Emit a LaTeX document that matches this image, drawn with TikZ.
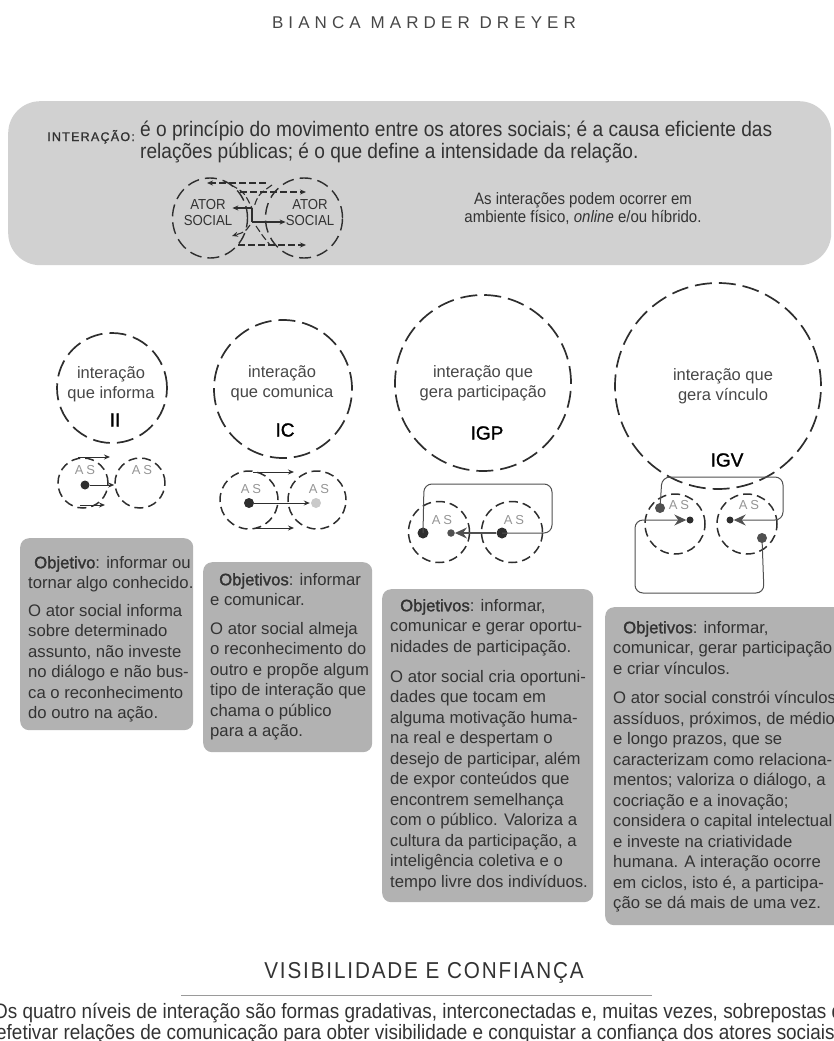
\documentclass[tikz,border=0pt]{standalone}
\usepackage{fontspec}
\setmainfont{Liberation Sans}
\newfontfamily\condfont{Liberation Sans}[FakeStretch=0.91]
\newfontfamily\headfont{Liberation Sans}[LetterSpace=30]
\newfontfamily\capsfont{Liberation Sans}[LetterSpace=10,FakeBold=1.2]
\newfontfamily\titlefont{Liberation Sans}[LetterSpace=8,FakeStretch=0.9]
\newfontfamily\asfont{Liberation Sans}[LetterSpace=22]
\newfontfamily\semibold{Liberation Sans}[FakeBold=1.4]
\usetikzlibrary{arrows.meta,shapes.geometric}

\definecolor{ink}{HTML}{2E2E2E}
\definecolor{txt}{HTML}{333333}
\definecolor{softtxt}{HTML}{474747}
\definecolor{asgray}{HTML}{959595}
\definecolor{panel}{HTML}{D1D1D1}
\definecolor{card}{HTML}{B2B2B2}
\definecolor{paledot}{HTML}{C9C9C9}
\definecolor{rulegray}{HTML}{9A9A9A}
\definecolor{loopgray}{HTML}{505050}

\tikzset{
  bigring/.style={circle, draw=ink, line width=1.7pt, dash pattern=on 17pt off 7pt, inner sep=0pt},
  asring/.style={circle, draw=ink, line width=1.5pt, dash pattern=on 9pt off 5pt, inner sep=0pt},
  actorring/.style={ellipse, draw=ink, line width=1.4pt, dash pattern=on 12pt off 6pt, inner sep=0pt},
  actortext/.style={align=center, text=txt, inner sep=0pt, font=\condfont\fontsize{14.5}{16}\selectfont},
  ringlabel/.style={align=center, text=softtxt, inner sep=0pt, font=\fontsize{16.5}{20}\selectfont},
  ringcode/.style={text=black, inner sep=0pt, font=\semibold\fontsize{19}{19}\selectfont},
  aslabel/.style={text=asgray, inner sep=0pt, font=\asfont\fontsize{13}{13}\selectfont},
  bigdot/.style={circle, fill=ink, inner sep=0pt, minimum size=11pt},
  middot/.style={circle, fill=ink, inner sep=0pt, minimum size=10pt},
  smalldot/.style={circle, fill=loopgray, inner sep=0pt, minimum size=7.5pt},
  thinarrow/.style={draw=ink, line width=1pt, -{Stealth[length=6pt,width=5pt]}},
  tangle/.style={draw=ink, line width=1.1pt},
  tangledash/.style={draw=ink, line width=1.1pt, dash pattern=on 7pt off 3pt},
  looppath/.style={draw=loopgray, line width=1pt, rounded corners=8pt},
  bigtip/.style={-{Stealth[length=12pt,width=11pt,inset=4pt]}},
  card/.style={fill=card, rounded corners=9pt, inner sep=0pt, anchor=north west},
  cardtext/.style={align=left, anchor=north west, inner sep=0pt, text=txt,
                   font=\fontsize{16.7}{20.5}\selectfont},
  closing/.style={anchor=base west, inner sep=0pt, text=txt, font=\condfont\fontsize{20.8}{21}\selectfont},
}

\begin{document}
\begin{tikzpicture}[x=1pt,y=-1pt]
\useasboundingbox (0,0) rectangle (834,1041);
\clip (0,0) rectangle (834,1041);

% running head
\node[text=softtxt, inner sep=0pt, font=\headfont\fontsize{17}{17}\selectfont] (author) at (424,23) {BIANCA MARDER DREYER};

% definition panel
\node[fill=panel, rounded corners=32pt, inner sep=0pt, anchor=north west,
      minimum width=823pt, minimum height=164pt] (panel) at (8,101) {};
\node[anchor=base west, inner sep=0pt, text=txt, font=\capsfont\fontsize{12.5}{13}\selectfont] (interlabel) at (47,141) {INTERAÇÃO:};
\node[anchor=north west, align=left, inner sep=0pt, text=txt, font=\condfont\fontsize{21}{22}\selectfont] (interdef) at (140,121)
  {é o princípio do movimento entre os atores sociais; é a causa eficiente das\\relações públicas; é o que define a intensidade da relação.};
\node[align=center, inner sep=0pt, text=txt, font=\condfont\fontsize{16.5}{18}\selectfont] (interenv) at (583,209)
  {As interações podem ocorrer em\\ambiente físico, \emph{online} e/ou híbrido.};

% two social actors and their crossing exchanges
\node[actorring, minimum width=75pt, minimum height=80pt] (actorL) at (210,218) {};
\node[actorring, minimum width=77pt, minimum height=80pt] (actorR) at (304,218) {};
\node[actortext] (actorLtxt) at (208,213) {ATOR\\SOCIAL};
\node[actortext] (actorRtxt) at (310,213) {ATOR\\SOCIAL};
\coordinate (tA) at (266,183);
\coordinate (tB) at (207,183);
\coordinate (tC) at (240,192);
\coordinate (tD) at (306,192);
\coordinate (mA) at (252,208);
\coordinate (mB) at (252,222);
\coordinate (bA) at (238,245);
\coordinate (bB) at (306,245);
\draw[tangledash, -{Stealth[length=6pt,width=5pt]}] (tA) -- (tB);
\draw[tangledash, -{Stealth[length=6pt,width=5pt]}] (tC) -- (tD);
\draw[tangledash] (231,185) .. controls (244,192) .. (mA);
\draw[tangledash] (272,185) .. controls (258,195) .. (254,207);
\draw[tangle, -{Stealth[length=6pt,width=5pt]}] (mA) -- (actorLtxt.east |- mA);
\draw[tangle] (mA) -- (mB);
\draw[tangle, -{Stealth[length=6pt,width=5pt]}] (mB) -- (actorRtxt.west |- mB);
\draw[tangledash, -{Stealth[length=6pt,width=5pt]}] (250,225) .. controls (245,232) .. (232,236);
\draw[tangledash] (256,226) .. controls (262,235) .. (270,245);
\draw[tangledash, -{Stealth[length=6pt,width=5pt]}] (bA) -- (bB);

% four levels of interaction
\node[bigring, minimum size=110pt] (ringII) at (112,388) {};
\node[ringlabel] (lblII) at (111,384) {interação\\que informa};
\node[ringcode] (codeII) at (115,420) {II};

\node[bigring, minimum size=138pt] (ringIC) at (283,389) {};
\node[ringlabel] (lblIC) at (282,383) {interação\\que comunica};
\node[ringcode] (codeIC) at (285,430) {IC};

\node[bigring, minimum size=176pt] (ringIGP) at (483,383) {};
\node[ringlabel] (lblIGP) at (483,383) {interação que\\gera participação};
\node[ringcode] (codeIGP) at (487,433) {IGP};

\node[bigring, minimum size=206pt] (ringIGV) at (718,386) {};
\node[ringlabel] (lblIGV) at (723,386) {interação que\\gera vínculo};
\node[ringcode] (codeIGV) at (727,460) {IGV};

% II: one actor informs the other
\node[asring, minimum size=50pt] (asIIa) at (83,483) {};
\node[asring, minimum size=50pt] (asIIb) at (140,483) {};
\node[aslabel] (asIIaTxt) at (85,470) {AS};
\node[aslabel] (asIIbTxt) at (142,470) {AS};
\node[circle, fill=ink, inner sep=0pt, minimum size=9pt] (dotII) at (85,485) {};
\draw[thinarrow] (dotII) -- (asIIb.west |- dotII);
\coordinate (IItopA) at (78,457);
\coordinate (IItopB) at (110,457);
\coordinate (IIbotA) at (80,505);
\coordinate (IIbotB) at (105,505);
\draw[thinarrow] (IItopA) -- (IItopB);
\draw[thinarrow] (IIbotA) -- (IIbotB);

% IC: one actor reaches the other
\node[asring, minimum size=58pt] (asICa) at (249,500) {};
\node[asring, minimum size=58pt] (asICb) at (317,500) {};
\node[aslabel] (asICaTxt) at (251,489) {AS};
\node[aslabel] (asICbTxt) at (319,489) {AS};
\node[middot] (dotICa) at (249,503) {};
\node[middot, fill=paledot] (dotICb) at (316,503) {};
\draw[thinarrow, shorten >=1pt] (dotICa) -- (dotICb);
\coordinate (ICtopA) at (253,472);
\coordinate (ICtopB) at (294,472);
\coordinate (ICbotA) at (253,528);
\coordinate (ICbotB) at (294,528);
\draw[thinarrow] (ICtopA) -- (ICtopB);
\draw[thinarrow] (ICbotA) -- (ICbotB);

% IGP: the answer returns
\node[asring, minimum size=61pt] (asIGPa) at (439,532) {};
\node[asring, minimum size=61pt] (asIGPb) at (512,532) {};
\node[aslabel] (asIGPaTxt) at (442,520) {AS};
\node[aslabel] (asIGPbTxt) at (514,520) {AS};
\node[bigdot] (dotIGPa) at (423,533) {};
\node[smalldot] (dotIGPs) at (451,533) {};
\node[bigdot] (dotIGPb) at (502,533) {};
\draw[draw=loopgray, line width=1.2pt, bigtip, fill=loopgray] (dotIGPb) -- (dotIGPs);
\draw[looppath] (dotIGPb.center) -- (552,533) -- (552,484) -- (424,484) -- (dotIGPa.center);

% IGV: exchanges in cycles
\node[asring, minimum size=60pt] (asIGVa) at (675,524) {};
\node[asring, minimum size=60pt] (asIGVb) at (747,524) {};
\node[aslabel] (asIGVaTxt) at (679,505) {AS};
\node[aslabel] (asIGVbTxt) at (749,505) {AS};
\node[circle, fill=loopgray, inner sep=0pt, minimum size=10pt] (dotIGVa) at (660,508) {};
\node[circle, fill=ink, inner sep=0pt, minimum size=7pt] (dotIGVas) at (690,520) {};
\node[circle, fill=ink, inner sep=0pt, minimum size=7pt] (dotIGVbs) at (730,520) {};
\node[circle, fill=loopgray, inner sep=0pt, minimum size=10pt] (dotIGVb) at (762,538) {};
\draw[looppath, bigtip, fill=none] (dotIGVb.center) -- (764,593) -- (635,593) -- (635,520) -- (dotIGVas.west);
\draw[looppath, bigtip, fill=none] (dotIGVa.center) -- (662,477) -- (783,477) -- (783,520) -- (dotIGVbs.east);

% description cards
\node[card, minimum width=173pt, minimum height=192pt] (cardII) at (20,538) {};
\node[cardtext] (textII) at (28,556)
  {\hspace*{6pt}{\semibold Objetivo}: informar ou\\
   tornar algo conhecido.\\[7pt]
   O ator social informa\\
   sobre determinado\\
   assunto, não investe\\
   no diálogo e não bus-\\
   ca o reconhecimento\\
   do outro na ação.};

\node[card, minimum width=169pt, minimum height=190pt] (cardIC) at (203,562) {};
\node[cardtext] (textIC) at (210,573)
  {\hspace*{9pt}{\semibold Objetivos}: informar\\
   e comunicar.\\[8pt]
   O ator social almeja\\
   o reconhecimento do\\
   outro e propõe algum\\
   tipo de interação que\\
   chama o público\\
   para a ação.};

\node[card, minimum width=211pt, minimum height=313pt] (cardIGP) at (382,589) {};
\node[cardtext] (textIGP) at (390,599)
  {\hspace*{10pt}{\semibold Objetivos}: informar,\\
   comunicar e gerar oportu-\\
   nidades de participação.\\[9.5pt]
   O ator social cria oportuni-\\
   dades que tocam em\\
   alguma motivação huma-\\
   na real e despertam o\\
   desejo de participar, além\\
   de expor conteúdos que\\
   encontrem semelhança\\
   com o público. Valoriza a\\
   cultura da participação, a\\
   inteligência coletiva e o\\
   tempo livre dos indivíduos.};

\node[card, minimum width=240pt, minimum height=318pt] (cardIGV) at (605,607) {};
\node[cardtext] (textIGV) at (613,621)
  {\hspace*{10pt}{\semibold Objetivos}: informar,\\
   comunicar, gerar participação\\
   e criar vínculos.\\[9pt]
   O ator social constrói vínculos\\
   assíduos, próximos, de médio\\
   e longo prazos, que se\\
   caracterizam como relaciona-\\
   mentos; valoriza o diálogo, a\\
   cocriação e a inovação;\\
   considera o capital intelectual\\
   e investe na criatividade\\
   humana. A interação ocorre\\
   em ciclos, isto é, a participa-\\
   ção se dá mais de uma vez.};

% closing section
\node[text=txt, inner sep=0pt, font=\titlefont\fontsize{23}{23}\selectfont] (closingtitle) at (424,973) {VISIBILIDADE E CONFIANÇA};
\coordinate (ruleL) at (181,995);
\coordinate (ruleR) at (652,995);
\draw[draw=rulegray, line width=1pt] (ruleL) -- (ruleR);
\node[closing] (closingA) at (-7,1018)
  {Os quatro níveis de interação são formas gradativas, interconectadas e, muitas vezes, sobrepostas de};
\node[closing] (closingB) at (-4,1039)
  {efetivar relações de comunicação para obter visibilidade e conquistar a confiança dos atores sociais.};
\end{tikzpicture}
\end{document}
